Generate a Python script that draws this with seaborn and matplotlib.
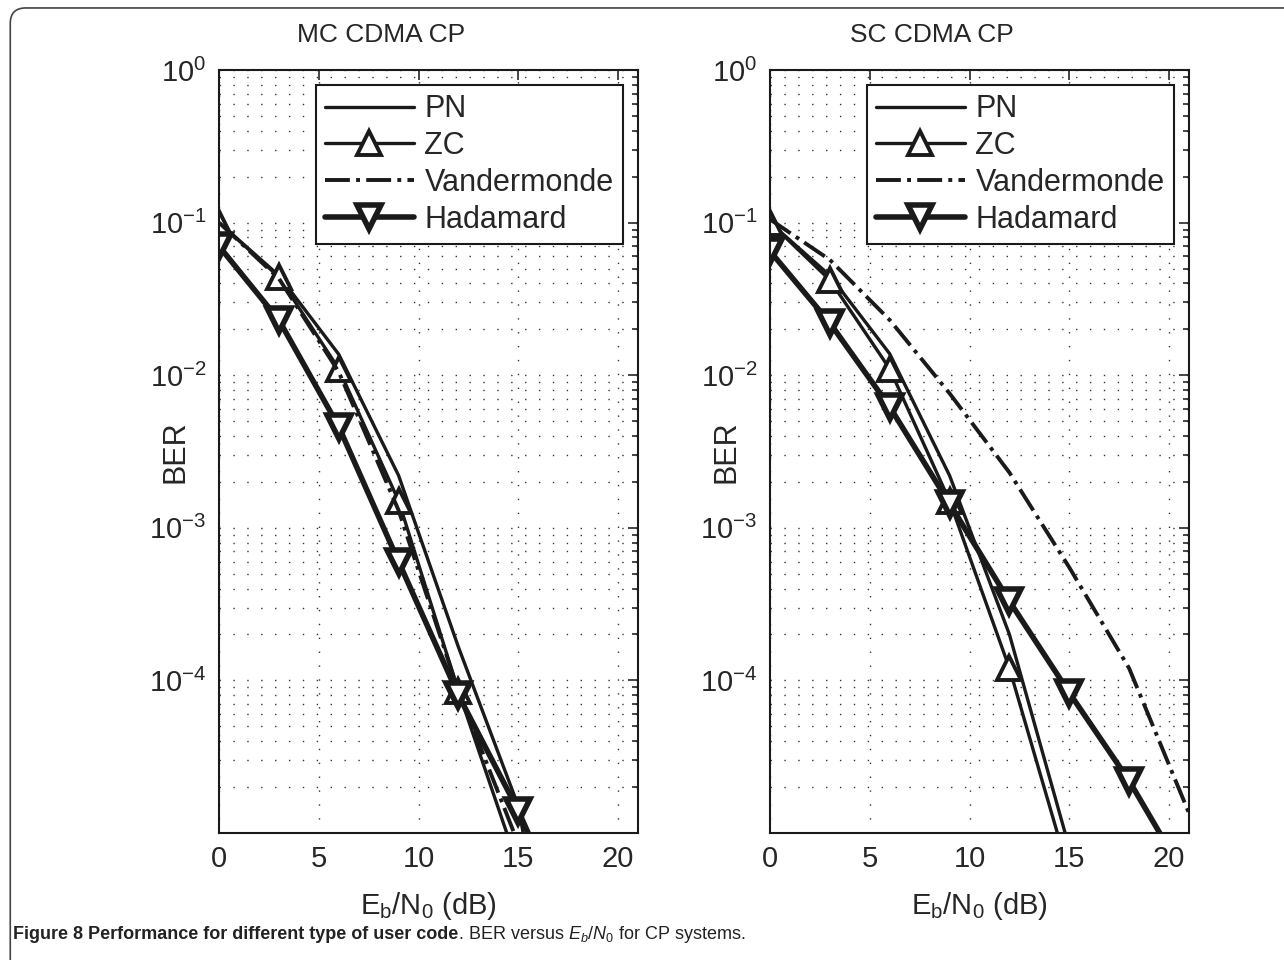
import numpy as np
import pandas as pd
import matplotlib
matplotlib.use('Agg')
import matplotlib.pyplot as plt
from matplotlib.patches import FancyBboxPatch
from matplotlib.ticker import LogLocator, NullFormatter
import seaborn as sns

# data
snr = [0, 3, 6, 9, 12, 15, 18]
snr_vand = [0, 3, 6, 9, 12, 15, 18, 21]

# MC CDMA CP
mc_pn = [0.1, 0.045, 0.0137, 0.0022, 1.65e-4, 1.5e-5, 1e-7]
mc_zc = [0.1, 0.044, 0.011, 0.0015, 8.5e-5, 6e-6, 3e-7]
mc_vand = [0.1, 0.043, 0.0105, 0.0013, 8.5e-5, 8.5e-6, 5e-7, 2e-8]
mc_had = [0.07, 0.023, 0.0046, 6e-4, 8e-5, 1.4e-5, 1.8e-6]

# SC CDMA CP
sc_pn = [0.1, 0.045, 0.0138, 0.0022, 2.0e-4, 8e-6, 3e-7]
sc_zc = [0.1, 0.042, 0.011, 0.0015, 1.2e-4, 5.4e-6, 2e-7]
sc_vand = [0.105, 0.057, 0.023, 0.0076, 0.0023, 5.5e-4, 1.2e-4, 1.35e-5]
sc_had = [0.065, 0.022, 0.0062, 0.00144, 3.3e-4, 8.3e-5, 2.2e-5, 4.7e-6]
snr_had_sc = [0, 3, 6, 9, 12, 15, 18, 21]

titles = ['MC CDMA CP', 'SC CDMA CP']
labels = ['PN', 'ZC', 'Vandermonde', 'Hadamard']

sns.set_style('white')
plt.rcParams['font.family'] = ['Liberation Sans', 'DejaVu Sans']
plt.rcParams['mathtext.fontset'] = 'custom'
plt.rcParams['mathtext.rm'] = 'Liberation Sans'
plt.rcParams['mathtext.it'] = 'Liberation Sans:italic'

fig = plt.figure(figsize=(12.84, 9.6), dpi=100)
ax1 = fig.add_axes([0.1706, 0.1323, 0.3263, 0.7948])
ax2 = fig.add_axes([0.5997, 0.1323, 0.3263, 0.7948])

panels = [
    (ax1, [(snr, mc_pn), (snr, mc_zc), (snr_vand, mc_vand), (snr, mc_had)]),
    (ax2, [(snr, sc_pn), (snr, sc_zc), (snr_vand, sc_vand), (snr_had_sc, sc_had)]),
]

ink = '#1a1a1a'
styles = [
    dict(color=ink, lw=2.4, linestyle='-'),
    dict(color=ink, lw=2.4, linestyle='-', marker='^', markersize=17,
         mfc='white', mec=ink, mew=2.8),
    dict(color=ink, lw=2.8, linestyle='-.'),
    dict(color=ink, lw=4.0, linestyle='-', marker='v', markersize=17,
         mfc='white', mec=ink, mew=4.0),
]

for i, (ax, series) in enumerate(panels):
    ax.set_yscale('log')
    for (xs, ys), lab, st in zip(series, labels, styles):
        df = pd.DataFrame({'x': xs, 'y': ys})
        sns.lineplot(data=df, x='x', y='y', ax=ax, label=lab, sort=False,
                     estimator=None, **st)
    ax.set_xlim(0, 21)
    ax.set_ylim(1e-5, 1)
    ax.set_xticks([0, 5, 10, 15, 20])
    ax.set_yticks([1e0, 1e-1, 1e-2, 1e-3, 1e-4])
    ax.yaxis.set_minor_locator(LogLocator(base=10, subs=np.arange(2, 10)))
    ax.yaxis.set_minor_formatter(NullFormatter())
    ax.grid(True, which='major', linestyle=(0, (1, 9)), color='#333333', lw=1.0)
    ax.grid(True, which='minor', axis='y', linestyle=(0, (1, 9)), color='#333333', lw=1.0)
    ax.tick_params(which='both', direction='in', top=True, right=True,
                   labelsize=21, width=1.2)
    ax.tick_params(which='major', length=7, pad=9)
    ax.tick_params(which='minor', length=4)
    for sp in ax.spines.values():
        sp.set_color(ink)
        sp.set_linewidth(1.5)
    ax.set_title(titles[i], fontsize=19, pad=20, x=0.387)
    ax.set_ylabel('BER', fontsize=22)
    ax.yaxis.set_label_coords(-0.068, 0.5)
    ax.set_xlabel(r'$\mathregular{E_b/N_0}$ (dB)', fontsize=21, labelpad=12)
    leg = ax.legend(loc='upper right', fontsize=22, frameon=True, fancybox=False,
                    framealpha=1, edgecolor=ink, handlelength=2.9,
                    borderaxespad=0.5, labelspacing=0.22, handletextpad=0.35,
                    borderpad=0.3)
    leg.get_frame().set_linewidth(1.5)

# frame around the figure
border = FancyBboxPatch((0.008, -0.05), 1.1, 1.0417, transform=fig.transFigure,
                        boxstyle='round,pad=0,rounding_size=0.012',
                        mutation_aspect=1284 / 960, fill=False,
                        edgecolor='#444444', lw=1.2)
fig.patches.append(border)

# caption
t1 = fig.text(0.010, 0.022, 'Figure 8 Performance for different type of user code',
              fontsize=13, fontweight='bold', color='#222222', va='baseline')
fig.canvas.draw()
bb = t1.get_window_extent(fig.canvas.get_renderer())
x2 = bb.x1 / fig.bbox.width
fig.text(x2, 0.022, r'. BER versus $E_b/N_0$ for CP systems.', fontsize=13,
         color='#222222', va='baseline')

fig.savefig('out.png', dpi=100)
